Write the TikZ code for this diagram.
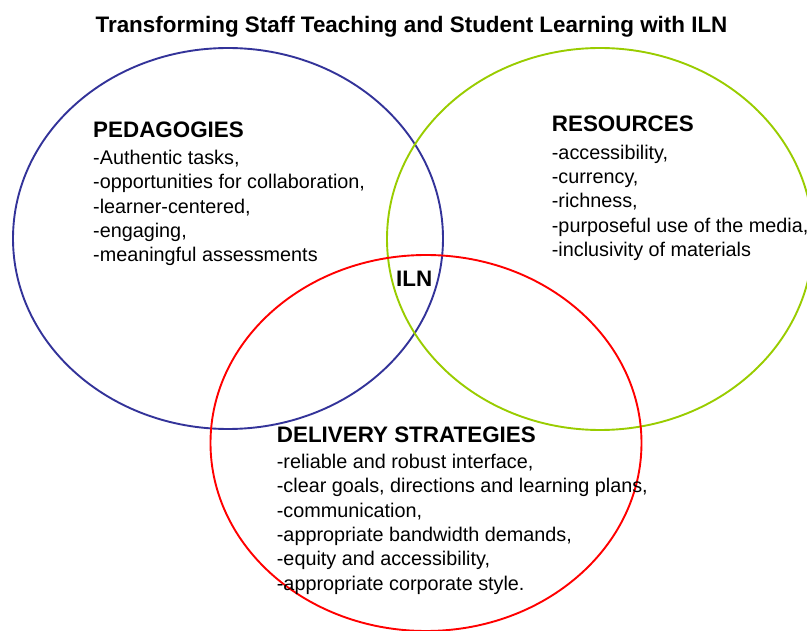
\documentclass[tikz,border=0pt]{standalone}
\usepackage{fontspec}
\setmainfont{Liberation Sans}
\usepackage{xcolor}
\usepackage{tikz}

\definecolor{pedblue}{RGB}{51,51,153}
\definecolor{resgreen}{RGB}{153,204,0}
\definecolor{delred}{RGB}{255,0,0}

\begin{document}
\begin{tikzpicture}[x=1pt, y=-1pt,
        ring/.style={line width=1.9pt},
        heading/.style={inner sep=0pt, anchor=base west, font=\fontsize{22.4}{26}\selectfont\bfseries},
        items/.style={inner sep=0pt, anchor=north west, align=left, font=\fontsize{19.8}{24.3}\selectfont}]
        \useasboundingbox (0,0) rectangle (807,631);
        \clip (0,0) rectangle (807,631);

        % Title
        \node[heading, anchor=base] (title) at (411.5,32.7)
            {Transforming Staff Teaching and Student Learning with ILN};

        % The three circles
        \draw[ring, pedblue] (228,238.5) ellipse [x radius=215pt, y radius=190.5pt];
        \draw[ring, resgreen] (600,239) ellipse [x radius=213pt, y radius=191pt];
        \draw[ring, delred] (426,443) ellipse [x radius=215.5pt, y radius=188pt];

        % Pedagogies
        \node[heading] (pedhead) at (93,138) {PEDAGOGIES};
        \node[items] (pedlist) at ([yshift=-11.5pt]pedhead.south west)
            {-Authentic tasks,\\-opportunities for collaboration,\\-learner-centered,\\-engaging,\\-meaningful assessments};

        % Resources
        \node[heading] (reshead) at (551.7,131.7) {RESOURCES};
        \node[items] (reslist) at ([yshift=-12.5pt]reshead.south west)
            {-accessibility,\\-currency,\\-richness,\\-purposeful use of the media,\\-inclusivity of materials};

        % Delivery strategies
        \node[heading] (delhead) at (276.7,442.7) {DELIVERY STRATEGIES};
        \node[items] (dellist) at ([yshift=-11pt]delhead.south west)
            {-reliable and robust interface,\\-clear goals, directions and learning plans,\\-communication,\\-appropriate bandwidth demands,\\-equity and accessibility,\\-appropriate corporate style.};

        % Centre
        \node[heading] (iln) at (396,286.7) {ILN};
    \end{tikzpicture}
\end{document}
